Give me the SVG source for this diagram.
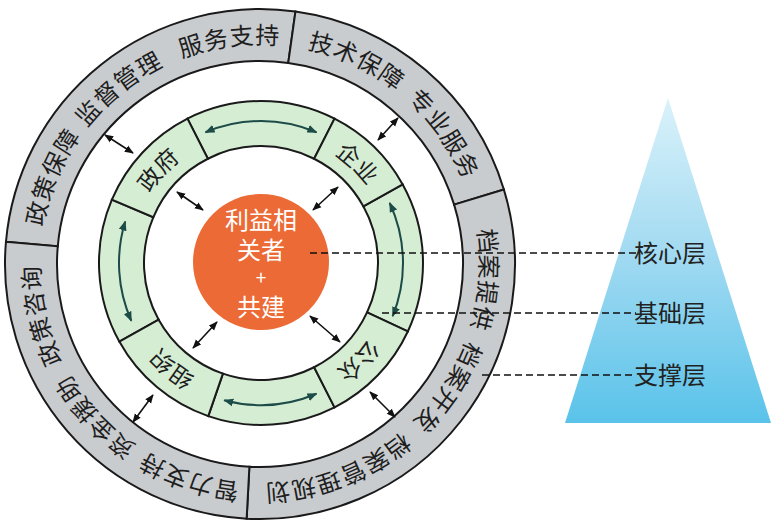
<svg xmlns="http://www.w3.org/2000/svg" width="784" height="528" viewBox="0 0 784 528">
<style>
.gray{fill:#c9cccf;stroke:#1a1a1a;stroke-width:2}
.green{fill:#d5edd3;stroke:#1a1a1a;stroke-width:2}
.gt{font-family:"Noto Sans CJK SC","Noto Sans",sans-serif;font-size:24px;fill:#1e1e1e;letter-spacing:1px}
.lt{font-family:"Noto Sans CJK SC","Noto Sans",sans-serif;font-size:23px;fill:#1e1e1e}
.ct{font-family:"Noto Sans CJK SC","Noto Sans",sans-serif;font-size:24px;fill:#ffffff;text-anchor:middle}
.tt{font-family:"Noto Sans CJK SC","Noto Sans",sans-serif;font-size:24px;fill:#222222;text-anchor:middle}
.dbl{stroke:#111;stroke-width:1.6;fill:none;marker-start:url(#ah);marker-end:url(#ah)}
.cyc{stroke:#1d4b47;stroke-width:2;fill:none;marker-start:url(#ahg);marker-end:url(#ahg)}
.dash{stroke:#111;stroke-width:1.6;stroke-dasharray:7 4;fill:none}
</style>
<defs>
<marker id="ah" viewBox="0 0 10 10" refX="9" refY="5" markerWidth="9" markerHeight="9" markerUnits="userSpaceOnUse" orient="auto-start-reverse"><path d="M0,1 L10,5 L0,9 Z" fill="#111"/></marker>
<marker id="ahg" viewBox="0 0 10 10" refX="9" refY="5" markerWidth="10" markerHeight="10" markerUnits="userSpaceOnUse" orient="auto-start-reverse"><path d="M0,1 L10,5 L0,9 Z" fill="#1d4b47"/></marker>
<linearGradient id="tri" x1="0" y1="0" x2="0" y2="1">
<stop offset="0" stop-color="#daf2fa"/>
<stop offset="0.5" stop-color="#9fd9f1"/>
<stop offset="1" stop-color="#5ac3ea"/>
</linearGradient>
<path id="gp" d="M0,-220 A220,220 0 0 1 0,220 A220,220 0 0 1 0,-220 A220,220 0 0 1 0,220 A220,220 0 0 1 0,-220"/>
<path id="lp" d="M0,-131 A131,131 0 0 1 0,131 A131,131 0 0 1 0,-131"/>
</defs>

<rect width="784" height="528" fill="#ffffff"/>

<g id="pyramid">
<polygon points="668,98 565,423 771,423" fill="url(#tri)"/>
</g>

<g transform="translate(260,264)">
<g id="seg-policy">
<path class="gray" d="M-254.03,-22.23 A255,255 0 0 1 35.49,-252.52 L28.25,-201.02 A203,203 0 0 0 -202.23,-17.69 Z"/>
<text class="gt" text-anchor="middle"><textPath href="#gp" startOffset="1123.1">政策保障</textPath></text>
<text class="gt" text-anchor="middle"><textPath href="#gp" startOffset="1232.6">监督管理</textPath></text>
<text class="gt" text-anchor="middle"><textPath href="#gp" startOffset="1351.6">服务支持</textPath></text>
</g>
<g id="seg-tech">
<path class="gray" d="M35.49,-252.52 A255,255 0 0 1 243.86,-74.55 L194.13,-59.35 A203,203 0 0 0 28.25,-201.02 Z"/>
<text class="gt" text-anchor="middle"><textPath href="#gp" startOffset="97.5">技术保障</textPath></text>
<text class="gt" text-anchor="middle"><textPath href="#gp" startOffset="210">专业服务</textPath></text>
</g>
<g id="seg-archive">
<path class="gray" d="M243.86,-74.55 A255,255 0 0 1 -13.35,254.65 L-10.62,202.72 A203,203 0 0 0 194.13,-59.35 Z"/>
<text class="gt" text-anchor="middle"><textPath href="#gp" startOffset="360.9">档案提供</textPath></text>
<text class="gt" text-anchor="middle"><textPath href="#gp" startOffset="473.4">档案开发</textPath></text>
<text class="gt" text-anchor="middle"><textPath href="#gp" startOffset="611.3">档案管理规划</textPath></text>
</g>
<g id="seg-support">
<path class="gray" d="M-13.35,254.65 A255,255 0 0 1 -254.03,-22.23 L-202.23,-17.69 A203,203 0 0 0 -10.62,202.72 Z"/>
<text class="gt" text-anchor="middle"><textPath href="#gp" startOffset="761.4">智力支持</textPath></text>
<text class="gt" text-anchor="middle"><textPath href="#gp" startOffset="871.6">资金援助</textPath></text>
<text class="gt" text-anchor="middle"><textPath href="#gp" startOffset="985.3">政策咨询</textPath></text>
</g>
</g>

<g transform="translate(261,263)">
<g id="ring-links">
<path class="green" d="M-73.55,-144.34 A162,162 0 0 1 73.55,-144.34 L53.12,-104.25 A117,117 0 0 0 -53.12,-104.25 Z"/>
<path class="green" d="M141.69,-78.54 A162,162 0 0 1 146.82,68.46 L106.04,49.45 A117,117 0 0 0 102.33,-56.72 Z"/>
<path class="green" d="M73.55,144.34 A162,162 0 0 1 -52.74,153.17 L-38.09,110.63 A117,117 0 0 0 53.12,104.25 Z"/>
<path class="green" d="M-141.69,78.54 A162,162 0 0 1 -149.12,-63.30 L-107.70,-45.72 A117,117 0 0 0 -102.33,56.72 Z"/>
</g>
<g id="gov">
<path class="green" d="M-149.12,-63.30 A162,162 0 0 1 -73.55,-144.34 L-53.12,-104.25 A117,117 0 0 0 -107.70,-45.72 Z"/>
<text class="lt" text-anchor="middle"><textPath href="#lp" startOffset="713.4">政府</textPath></text>
</g>
<g id="enterprise">
<path class="green" d="M73.55,-144.34 A162,162 0 0 1 141.69,-78.54 L102.33,-56.72 A117,117 0 0 0 53.12,-104.25 Z"/>
<text class="lt" text-anchor="middle"><textPath href="#lp" startOffset="100.6">企业</textPath></text>
</g>
<g id="public">
<path class="green" d="M146.82,68.46 A162,162 0 0 1 73.55,144.34 L53.12,104.25 A117,117 0 0 0 106.04,49.45 Z"/>
<text class="lt" text-anchor="middle"><textPath href="#lp" startOffset="308.7">公众</textPath></text>
</g>
<g id="org">
<path class="green" d="M-52.74,153.17 A162,162 0 0 1 -141.69,78.54 L-102.33,56.72 A117,117 0 0 0 -38.09,110.63 Z"/>
<text class="lt" text-anchor="middle"><textPath href="#lp" startOffset="503">组织</textPath></text>
</g>
</g>

<g id="core">
<circle cx="261" cy="262" r="68" fill="#ec6a35"/>
<text class="ct" x="261" y="229">利益相</text>
<text class="ct" x="261" y="259">关者</text>
<text class="ct" x="261" y="285" style="font-size:19px">+</text>
<text class="ct" x="261" y="316">共建</text>
</g>

<g id="labels">
<text class="tt" x="670" y="262">核心层</text>
<text class="tt" x="670" y="322">基础层</text>
<text class="tt" x="670" y="384">支撑层</text>
</g>

<g id="connectors">
<g transform="translate(261,263)">
<path class="cyc" d="M-55.48,-130.71 A142,142 0 0 1 55.48,-130.71"/>
<path class="cyc" d="M128.70,-60.01 A142,142 0 0 1 131.66,53.19"/>
<path class="cyc" d="M55.48,130.71 A142,142 0 0 1 -36.75,137.16"/>
<path class="cyc" d="M-129.72,57.76 A142,142 0 0 1 -135.79,-41.52"/>
</g>
<line class="dbl" x1="105" y1="135" x2="133" y2="153"/>
<line class="dbl" x1="398" y1="118" x2="378" y2="140"/>
<line class="dbl" x1="370" y1="392" x2="395" y2="417"/>
<line class="dbl" x1="153" y1="395" x2="133" y2="422"/>
<line class="dbl" x1="177" y1="192" x2="203" y2="210"/>
<line class="dbl" x1="338" y1="187" x2="313" y2="210"/>
<line class="dbl" x1="310" y1="316" x2="340" y2="342"/>
<line class="dbl" x1="217" y1="322" x2="193" y2="348"/>
<line class="dash" x1="310" y1="253" x2="636" y2="253"/>
<line class="dash" x1="382" y1="313" x2="636" y2="313"/>
<line class="dash" x1="482" y1="375" x2="636" y2="375"/>
</g>
</svg>
